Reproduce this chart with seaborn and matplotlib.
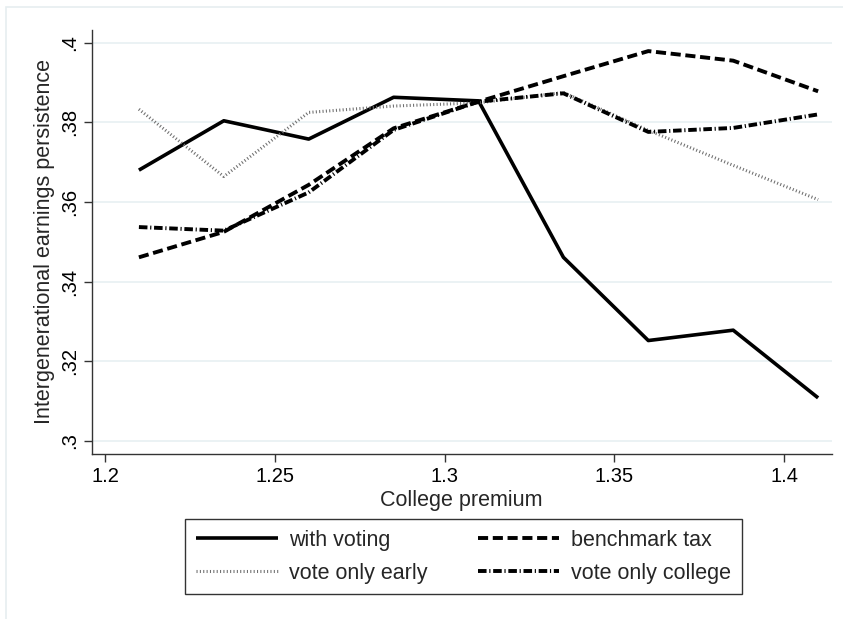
import matplotlib
matplotlib.use("Agg")
import matplotlib.pyplot as plt
import matplotlib.patches as mpatches
import pandas as pd
import seaborn as sns

# College premium grid and intergenerational earnings persistence by scenario
college_premium = [1.21, 1.235, 1.26, 1.285, 1.31, 1.335, 1.36, 1.385, 1.41]
with_voting = [0.3680, 0.3804, 0.3758, 0.3863, 0.3854, 0.3461, 0.3252, 0.3278, 0.3108]
benchmark_tax = [0.3461, 0.3525, 0.3643, 0.3785, 0.3852, 0.3916, 0.3979, 0.3955, 0.3878]
vote_only_early = [0.3833, 0.3664, 0.3825, 0.3841, 0.3849, 0.3875, 0.3780, 0.3692, 0.3606]
vote_only_college = [0.3537, 0.3528, 0.3624, 0.3781, 0.3852, 0.3873, 0.3776, 0.3786, 0.3820]

series_names = ["with voting", "benchmark tax", "vote only early", "vote only college"]
x_ticks = [1.2, 1.25, 1.3, 1.35, 1.4]
x_tick_labels = ["1.2", "1.25", "1.3", "1.35", "1.4"]
y_ticks = [0.30, 0.32, 0.34, 0.36, 0.38, 0.40]
y_tick_labels = [".3", ".32", ".34", ".36", ".38", ".4"]

frames = []
for name, vals in zip(series_names,
                      [with_voting, benchmark_tax, vote_only_early, vote_only_college]):
    frames.append(pd.DataFrame({"premium": college_premium, "persistence": vals,
                                "series": name}))
df = pd.concat(frames, ignore_index=True)

sns.set_theme(style="white")
plt.rcParams["font.family"] = ["Liberation Sans", "DejaVu Sans"]

W, H = 843, 619
TICK_FS = 14.5
TITLE_FS = 15.5
fig = plt.figure(figsize=(W / 100, H / 100), dpi=100)
fig.patch.set_facecolor("white")

# faint outer graph-region frame
fig.add_artist(mpatches.Rectangle((6 / W, -0.1), 1.2, 1 - 7 / H + 0.1,
                                  transform=fig.transFigure, fill=False,
                                  edgecolor="#e6eef0", linewidth=1.2))

ax = fig.add_axes([91.7 / W, 1 - 454 / H, (831.7 - 91.7) / W, (454 - 30) / H])

styles = {
    "with voting": dict(color="black", linewidth=2.6, linestyle="-"),
    "benchmark tax": dict(color="black", linewidth=2.8, linestyle=(0, (2.6, 1.2))),
    "vote only early": dict(color="#707070", linewidth=2.2, linestyle=(0, (0.35, 0.75))),
    "vote only college": dict(color="black", linewidth=2.8,
                              linestyle=(0, (2.2, 0.7, 0.3, 0.7))),
}

for name in series_names:
    sub = df[df["series"] == name]
    sns.lineplot(data=sub, x="premium", y="persistence", ax=ax, label=name,
                 solid_capstyle="butt", dash_capstyle="butt", **styles[name])

ax.set_xlim(1.1961, 1.414)
ax.set_ylim(0.2967, 0.4032)
ax.set_xticks(x_ticks)
ax.set_xticklabels(x_tick_labels, fontsize=TICK_FS)
ax.set_yticks(y_ticks)
ax.set_yticklabels(y_tick_labels, fontsize=TICK_FS, rotation=90, va="center")
ax.tick_params(axis="both", direction="out", length=6, width=1, color="#333333",
               pad=3, labelcolor="black")
ax.tick_params(axis="both", which="both", bottom=True, left=True)

ax.yaxis.grid(True, color="#e8f0f2", linewidth=1.2)
ax.xaxis.grid(False)
ax.set_axisbelow(True)
for side in ["top", "right"]:
    ax.spines[side].set_visible(False)
for side in ["left", "bottom"]:
    ax.spines[side].set_color("#333333")
    ax.spines[side].set_linewidth(1.0)

ax.set_xlabel("College premium", fontsize=TITLE_FS, labelpad=3)
ax.set_ylabel("Intergenerational earnings persistence", fontsize=TITLE_FS, labelpad=4)

ax.get_legend().remove()
handles, labels = ax.get_legend_handles_labels()
lookup = dict(zip(labels, handles))
# two rows filled left to right
order = ["with voting", "vote only early", "benchmark tax", "vote only college"]
leg = fig.legend([lookup[k] for k in order], order, loc="upper center", ncol=2,
                 bbox_to_anchor=(463.5 / W, 1 - 519 / H), fontsize=TITLE_FS,
                 frameon=True, fancybox=False, edgecolor="black",
                 handlelength=3.8, handletextpad=0.55, columnspacing=2.3,
                 borderpad=0.5, labelspacing=0.55, borderaxespad=0)
leg.get_frame().set_linewidth(1.0)

fig.savefig("out.png", dpi=100)
